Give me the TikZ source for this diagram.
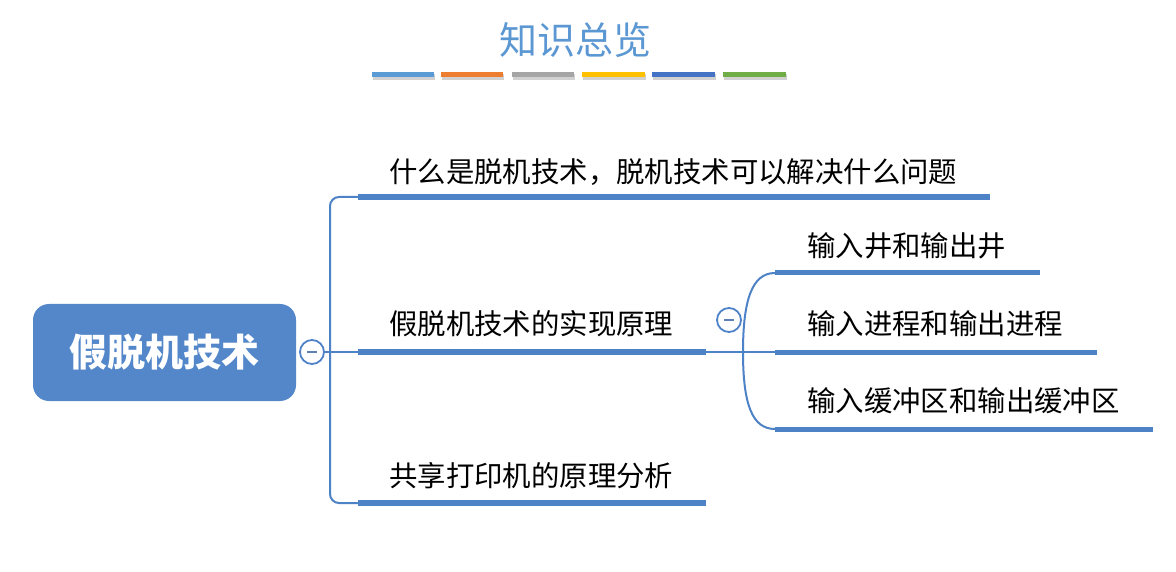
\documentclass[tikz,border=0pt]{standalone}
\usepackage{fontspec}
\setmainfont{Noto Sans CJK SC}
\newfontfamily\cjk{Noto Sans CJK SC}
\usetikzlibrary{calc}
\definecolor{mainblue}{HTML}{4E82C6}
\definecolor{rootblue}{HTML}{5387CA}
\definecolor{titleblue}{HTML}{5B97D2}
\definecolor{barA}{HTML}{5B9BD5}
\definecolor{barB}{HTML}{ED7D31}
\definecolor{barC}{HTML}{A5A5A5}
\definecolor{barD}{HTML}{FFC000}
\definecolor{barE}{HTML}{4472C4}
\definecolor{barF}{HTML}{70AD47}
\tikzset{
  topictext/.style={anchor=west, inner sep=0pt, font=\cjk\fontsize{28.4}{30}\selectfont, text=black},
  thickline/.style={draw=mainblue, line width=6pt},
  subline/.style={draw=mainblue, line width=5pt},
  thinline/.style={draw=mainblue, line width=2pt},
  collapse/.style={circle, draw=mainblue, line width=1.8pt, fill=white, minimum size=24pt, inner sep=0pt},
  colorbar/.style={line width=5pt},
  barshadow/.style={line width=6pt, draw=black, opacity=0.18}
}
\begin{document}
\begin{tikzpicture}[x=1pt,y=-1pt]
\useasboundingbox (0,0) rectangle (1176,572);
% title
\node[font=\cjk\fontsize{38}{40}\selectfont, text=titleblue, inner sep=0pt] (title) at (575,40) {知识总览};
% color bars
\foreach \xa/\xb/\c [count=\i] in {372/434/barA,441/503/barB,512/574/barC,582/645/barD,652/715/barE,723/786/barF}{
  \draw[barshadow] (\xa+1,77) -- (\xb+1,77);
  \draw[colorbar, draw=\c] (\xa,75) coordinate (bar\i s) -- (\xb,75) coordinate (bar\i e);
}
% root
\node[draw=none, fill=rootblue, rounded corners=16pt, minimum width=263pt, minimum height=97pt, inner sep=0pt,
      font=\cjk\bfseries\fontsize{38}{40}\selectfont, text=white] (root) at (164.5,352.5) {假脱机技术};
\node[collapse] (c1) at (312,352) {};
\draw[line width=2pt, draw=mainblue!70!gray] (c1.center) ++(-5,0) -- ++(10,0);
% topic underlines
\coordinate (t1s) at (358,197); \coordinate (t1e) at (990,197);
\coordinate (t2s) at (358,352); \coordinate (t2e) at (706,352);
\coordinate (t3s) at (358,503); \coordinate (t3e) at (706,503);
\draw[thickline] (t1s) -- (t1e);
\draw[thickline] (t2s) -- (t2e);
\draw[thickline] (t3s) -- (t3e);
\node[topictext] (t1) at (389,172) {什么是脱机技术，脱机技术可以解决什么问题};
\node[topictext] (t2) at (389,324) {假脱机技术的实现原理};
\node[topictext] (t3) at (389,476) {共享打印机的原理分析};
% trunk
\draw[thinline, rounded corners=9pt] (t1s) -| (330,352) |- (t3s);
\draw[thinline] (c1.east) -- (t2s);
% sub branch
\coordinate (j) at (743,352);
\coordinate (s1s) at (775,273); \coordinate (s1e) at (1040,273);
\coordinate (s2s) at (775,352); \coordinate (s2e) at (1097,352);
\coordinate (s3s) at (775,429); \coordinate (s3e) at (1153,429);
\draw[subline] (s1s) -- (s1e);
\draw[subline] (s2s) -- (s2e);
\draw[subline] (s3s) -- (s3e);
\draw[thinline] (t2e) -- (s2s);
\draw[thinline] (j) .. controls (743,300) and (752,273) .. (s1s);
\draw[thinline] (j) .. controls (743,404) and (752,429) .. (s3s);
\node[collapse] (c2) at (729,320) {};
\draw[line width=2pt, draw=mainblue!70!gray] (c2.center) ++(-5,0) -- ++(10,0);
\node[topictext] (s1) at (807,246) {输入井和输出井};
\node[topictext] (s2) at (807,324) {输入进程和输出进程};
\node[topictext] (s3) at (807,401) {输入缓冲区和输出缓冲区};
\end{tikzpicture}
\end{document}
